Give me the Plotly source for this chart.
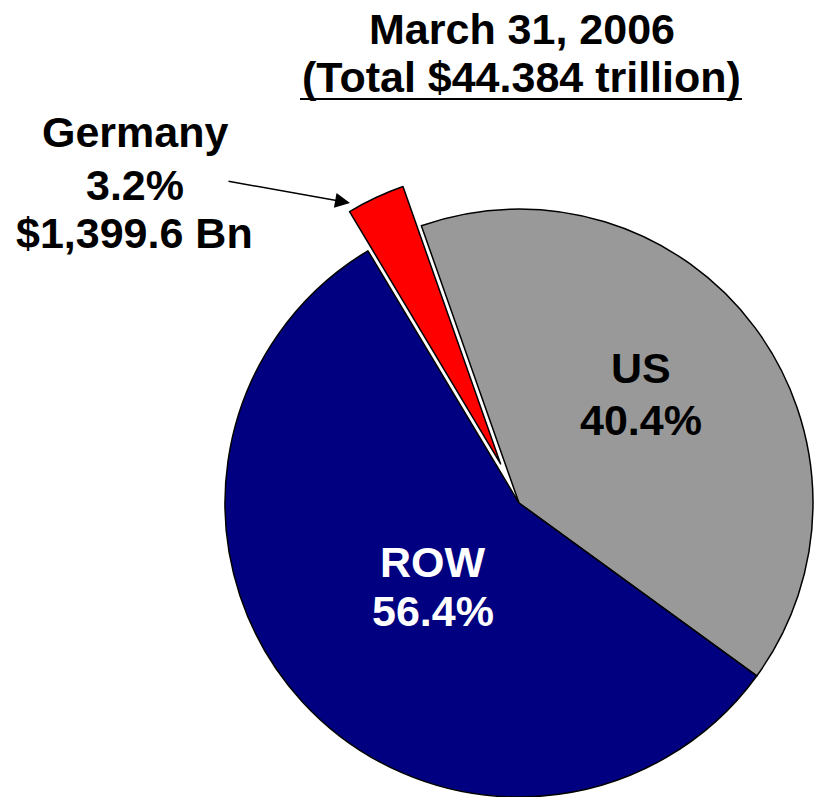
import plotly.graph_objects as go
import math

# ---- data ----
labels = ["US", "ROW", "Germany"]
shares = [40.4, 56.4, 3.2]
germany_value = "$1,399.6 Bn"
title_lines = ["March 31, 2006", "(Total $44.384 trillion)"]

# ---- styling ----
colors = ["#999999", "#000080", "#FF0000"]
text_colors = ["black", "white", "black"]
W, H = 814, 797
cx, cy, r = 519, 503, 294          # pie centre / radius in pixels (from top)
rotation = -19.4
pull_frac = 0.147                   # pull of the Germany slice
FONT = "Liberation Sans, Arial, sans-serif"
FS = 43

def dom(cx_, cy_, r_):
    return dict(x=[(cx_ - r_) / W, (cx_ + r_) / W],
                y=[(H - cy_ - r_) / H, (H - cy_ + r_) / H])

total = sum(shares)
cum = sum(shares[:2]) + shares[2] / 2
mid = math.radians(rotation + 360 * cum / total)
d = pull_frac * r
gx, gy = cx + d * math.sin(mid), cy - d * math.cos(mid)

clear = "rgba(0,0,0,0)"
main_colors = [c if l != "Germany" else clear for c, l in zip(colors, labels)]
main_lw = [1.5 if l != "Germany" else 0 for l in labels]
pull_colors = [c if l == "Germany" else clear for c, l in zip(colors, labels)]
pull_lw = [1.5 if l == "Germany" else 0 for l in labels]

fig = go.Figure()
fig.add_trace(go.Pie(labels=labels, values=shares, sort=False, direction="clockwise",
                     rotation=rotation, textinfo="none", hoverinfo="skip",
                     marker=dict(colors=main_colors, line=dict(color="black", width=main_lw)),
                     domain=dom(cx, cy, r), showlegend=False))
fig.add_trace(go.Pie(labels=labels, values=shares, sort=False, direction="clockwise",
                     rotation=rotation, textinfo="none", hoverinfo="skip",
                     marker=dict(colors=pull_colors, line=dict(color="black", width=pull_lw)),
                     domain=dom(gx, gy, r), showlegend=False))

ann = []
def txt(s, x, y, color="black"):
    ann.append(dict(text=f"<b>{s}</b>", x=x / W, y=1 - y / H, xref="paper", yref="paper",
                    xanchor="center", yanchor="middle", showarrow=False,
                    font=dict(family=FONT, size=FS, color=color)))

# title
txt(title_lines[0], 522, 28.5)
txt(title_lines[1], 521, 77)

# slice labels
label_pos = {"US": (641, 368, 420), "ROW": (433, 562, 611)}
for l, s, tc in zip(labels, shares, text_colors):
    if l in label_pos:
        x, y1, y2 = label_pos[l]
        txt(l, x, y1, tc)
        txt(f"{s}%", x, y2, tc)

# Germany callout
gi = labels.index("Germany")
txt(labels[gi], 135, 132.5)
txt(f"{shares[gi]}%", 135, 185)
txt(germany_value, 134, 233.5)

ann.append(dict(text="", x=350 / W, y=1 - 203 / H, xref="paper", yref="paper",
                showarrow=True, ax=227 - 350, ay=181 - 203, arrowhead=2, arrowsize=2,
                arrowwidth=1.5, arrowcolor="black", standoff=0))

fig.update_layout(
    width=W, height=H, margin=dict(l=0, r=0, t=0, b=0),
    paper_bgcolor="white", plot_bgcolor="white", showlegend=False,
    annotations=ann,
    shapes=[dict(type="line", xref="paper", yref="paper", x0=300 / W, x1=742 / W,
                 y0=1 - 99 / H, y1=1 - 99 / H, line=dict(color="black", width=2))],
)
fig.write_html("out.html", config={"displayModeBar": False},
               post_script="document.body.style.margin='0';document.body.style.overflow='hidden';")
